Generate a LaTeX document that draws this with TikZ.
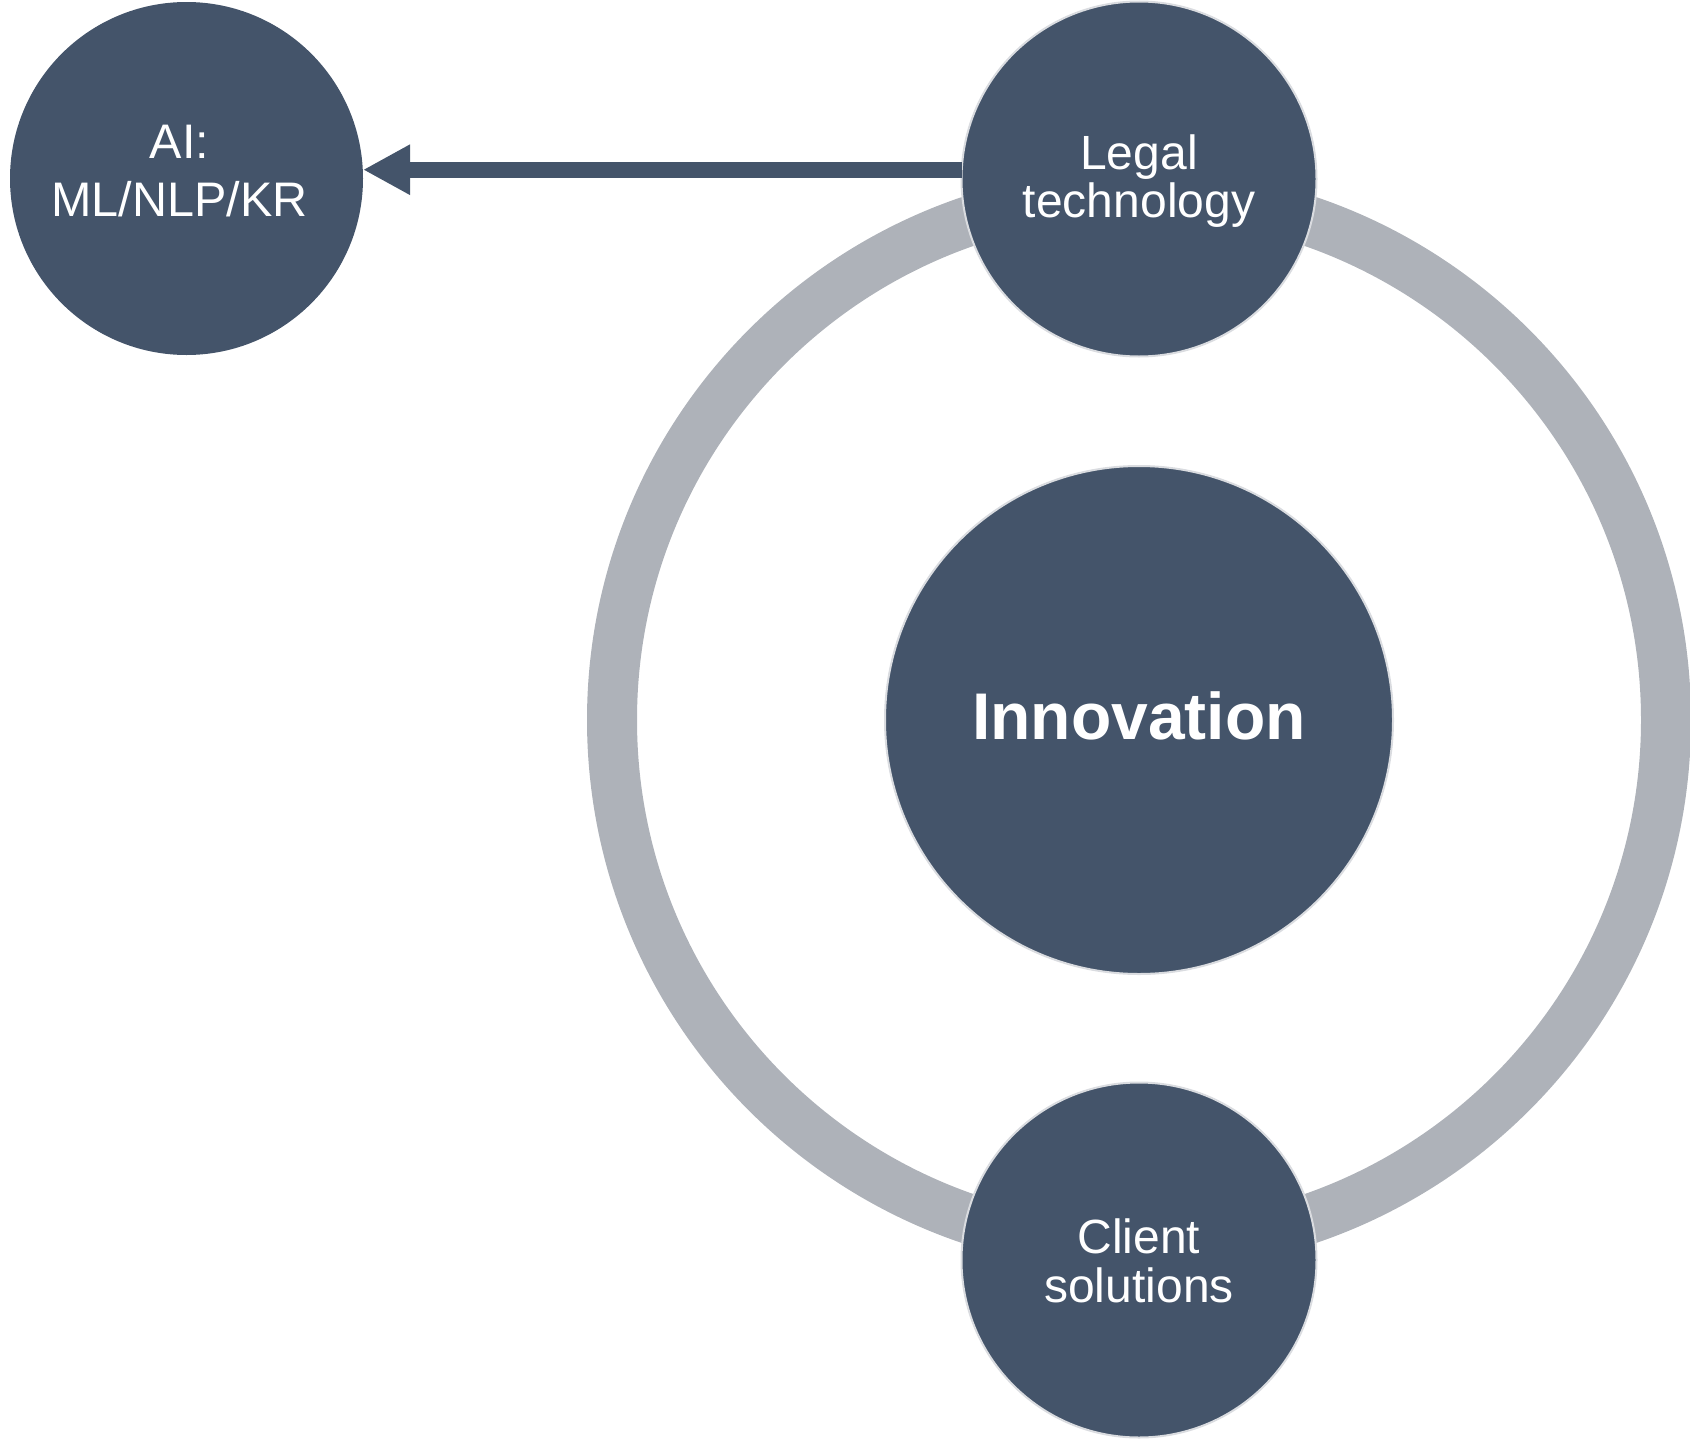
\documentclass[tikz,border=0pt]{standalone}
\usepackage{fontspec}
\setmainfont{Liberation Sans}
\usetikzlibrary{arrows.meta}
\definecolor{slate}{HTML}{44546A}
\definecolor{ringgray}{HTML}{AEB2B9}
\definecolor{rim}{HTML}{DADCE0}
\begin{document}
\begin{tikzpicture}[x=1pt,y=-1pt,
  bubble/.style={circle, fill=slate, inner sep=0pt, outer sep=0pt},
  rimmed/.style={draw=rim, line width=2pt},
  txt/.style={text=white, align=center, inner sep=0pt}]
\useasboundingbox (0,0) rectangle (1690,1440);
\coordinate (hub) at (1139,720);
\draw[ringgray, line width=50pt] (hub) circle[radius=527];
\node[bubble, rimmed, minimum size=508] (inno) at (hub) {};
\node[bubble, minimum size=353] (ai) at (186.5,178.5) {};
\node[bubble, rimmed, minimum size=355] (legal) at (1139,179) {};
\node[bubble, rimmed, minimum size=355] (client) at (1139,1260) {};
\draw[slate, line width=16pt, -{Triangle[length=47pt,width=47pt]}] (legal.177) -- (legal.177 -| ai.east);
\node[txt, font=\fontsize{48.5}{58}\selectfont] (ait) at ([xshift=-7pt,yshift=7pt]ai.center) {AI:\\ML/NLP/KR};
\node[txt, font=\fontsize{48}{48}\selectfont] (legalt) at ([yshift=-2.5pt]legal.center) {Legal\\technology};
\node[txt, font=\fontsize{48}{49}\selectfont] (clientt) at ([yshift=-1pt]client.center) {Client\\solutions};
\node[txt, font=\fontsize{66}{66}\selectfont\bfseries] (innot) at ([yshift=3.6pt]inno.center) {Innovation};
\end{tikzpicture}
\end{document}
